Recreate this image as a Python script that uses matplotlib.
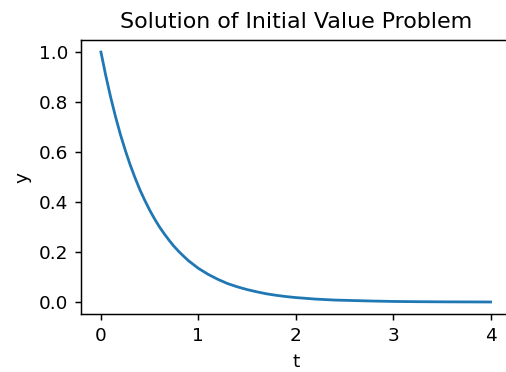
import matplotlib
matplotlib.use("Agg")
import matplotlib.pyplot as plt

# Sampled solution y(t) of the initial value problem
t = [0.0, 0.05, 0.1, 0.15, 0.2, 0.25, 0.3, 0.35, 0.4, 0.45,
     0.5, 0.55, 0.6, 0.65, 0.7, 0.75, 0.8, 0.85, 0.9, 0.95,
     1.0, 1.1, 1.2, 1.3, 1.4, 1.5, 1.6, 1.7, 1.8, 1.9,
     2.0, 2.2, 2.4, 2.6, 2.8, 3.0, 3.25, 3.5, 3.75, 4.0]
y = [1.0, 0.905, 0.819, 0.741, 0.670, 0.607, 0.549, 0.497, 0.449, 0.407,
     0.368, 0.333, 0.301, 0.273, 0.247, 0.223, 0.202, 0.183, 0.165, 0.150,
     0.135, 0.111, 0.091, 0.074, 0.061, 0.050, 0.041, 0.033, 0.027, 0.022,
     0.018, 0.012, 0.008, 0.006, 0.004, 0.0025, 0.0015, 0.0009, 0.0006, 0.0003]

dpi = 133
fig = plt.figure(figsize=(506 / dpi, 372 / dpi), dpi=dpi)
ax = fig.add_axes([0.161, 0.1546, 0.847, 0.739])
ax.plot(t, y, color="#1f77b4")
ax.set_title("Solution of Initial Value Problem")
ax.set_xlabel("t")
ax.set_ylabel("y")
ax.set_xticks([0, 1, 2, 3, 4])
ax.set_yticks([0.0, 0.2, 0.4, 0.6, 0.8, 1.0])

fig.savefig("out.png", dpi=dpi)
